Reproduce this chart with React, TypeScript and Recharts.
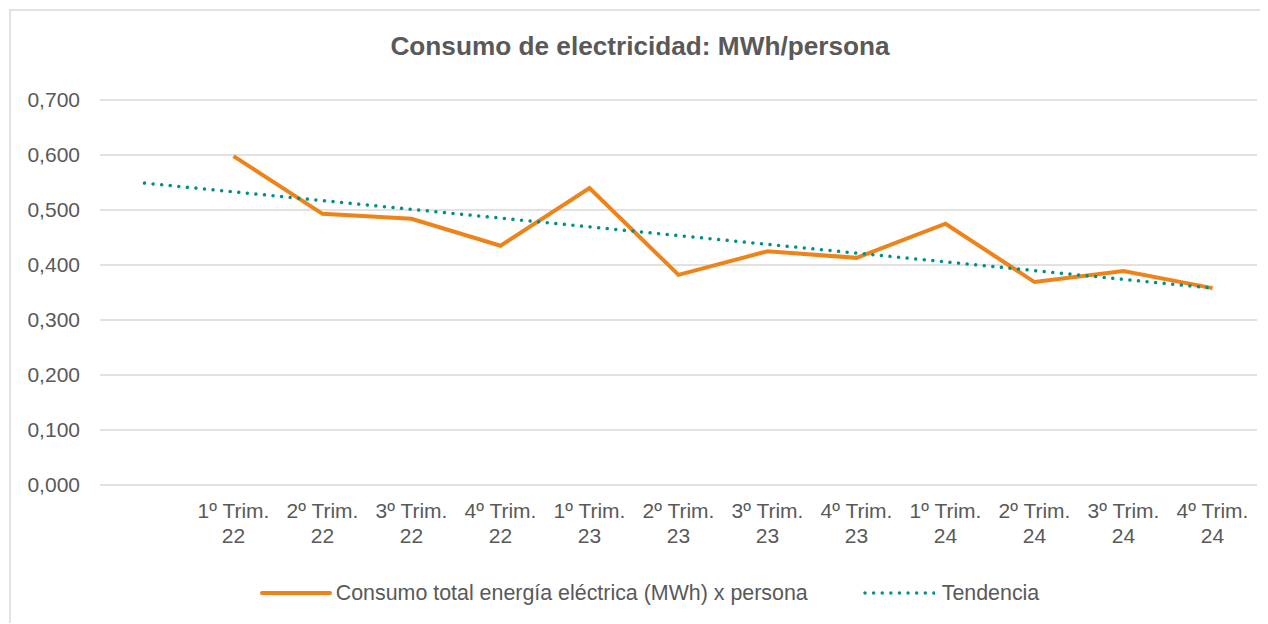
import React from "react";
import { LineChart, Line, XAxis, YAxis, CartesianGrid, Legend } from "recharts";

const categories = [
  "",
  "1º Trim. 22",
  "2º Trim. 22",
  "3º Trim. 22",
  "4º Trim. 22",
  "1º Trim. 23",
  "2º Trim. 23",
  "3º Trim. 23",
  "4º Trim. 23",
  "1º Trim. 24",
  "2º Trim. 24",
  "3º Trim. 24",
  "4º Trim. 24",
];
const consumo = [null, 0.598, 0.493, 0.484, 0.435, 0.54, 0.382, 0.425, 0.413, 0.475, 0.369, 0.389, 0.358];
const tendencia = [0.549, null, null, null, null, null, null, null, null, null, null, null, 0.358];
const yTicks = [0, 0.1, 0.2, 0.3, 0.4, 0.5, 0.6, 0.7];

const seriesNames = ["Consumo total energía eléctrica (MWh) x persona", "Tendencia"];
const title = "Consumo de electricidad: MWh/persona";

const data = categories.map((c, i) => ({ cat: c, consumo: consumo[i], tendencia: tendencia[i] }));

const ORANGE = "#EE8419";
const TEAL = "#00908A";
const TEXT = "#595959";
const FONT = "'Liberation Sans', Arial, sans-serif";

const XTick = (props: any) => {
  const { x, y, payload } = props;
  const v: string = payload.value || "";
  if (!v) return null;
  const idx = v.lastIndexOf(" ");
  const l1 = v.slice(0, idx);
  const l2 = v.slice(idx + 1);
  return (
    <text x={x} y={y} textAnchor="middle" fill={TEXT} fontSize={21} fontFamily={FONT}>
      <tspan x={x} y={y + 33}>{l1}</tspan>
      <tspan x={x} y={y + 58}>{l2}</tspan>
    </text>
  );
};

const LegendContent = () => (
  <div
    style={{
      display: "flex",
      justifyContent: "center",
      alignItems: "center",
      paddingLeft: 34,
      height: 40,
      fontFamily: FONT,
      fontSize: 21.4,
      color: TEXT,
    }}
  >
    <svg width={72} height={10} style={{ marginRight: 4 }}>
      <line x1={2} y1={5} x2={70} y2={5} stroke={ORANGE} strokeWidth={4} strokeLinecap="round" />
    </svg>
    <span style={{ marginRight: 55 }}>{seriesNames[0]}</span>
    <svg width={72} height={10} style={{ marginRight: 7 }}>
      <line x1={2} y1={5} x2={72} y2={5} stroke={TEAL} strokeWidth={3.5} strokeDasharray="0.01 8.6" strokeLinecap="round" />
    </svg>
    <span>{seriesNames[1]}</span>
  </div>
);

export default function App() {
  return (
    <div style={{ position: "relative", width: 1259, height: 615, overflow: "hidden" }}>
      <div
        style={{
          position: "absolute",
          left: 1,
          top: 1,
          width: 1300,
          height: 700,
          border: "2px solid #e2e2e2",
          boxSizing: "border-box",
        }}
      />
      <div
        style={{
          position: "absolute",
          left: 0,
          top: 25,
          width: 1264,
          textAlign: "center",
          fontFamily: FONT,
          fontWeight: "bold",
          fontSize: 26.2,
          lineHeight: "26px",
          color: TEXT,
          zIndex: 2,
        }}
      >
        {title}
      </div>
      <div style={{ position: "absolute", left: 0, top: 0 }}>
        <LineChart width={1260} height={616} data={data} margin={{ top: 92, right: 11, left: 0, bottom: 11 }}>
          <CartesianGrid vertical={false} stroke="#d9d9d9" strokeWidth={1.5} />
          <XAxis
            dataKey="cat"
            scale="band"
            axisLine={false}
            tickLine={false}
            tickSize={0}
            tickMargin={0}
            height={88}
            interval={0}
            tick={<XTick />}
          />
          <YAxis
            domain={[0, 0.7]}
            ticks={yTicks}
            width={92}
            axisLine={false}
            tickLine={false}
            tickSize={0}
            tickMargin={20}
            tick={{ fill: TEXT, fontSize: 21, fontFamily: FONT }}
            tickFormatter={(v: number) => v.toFixed(3).replace(".", ",")}
          />
          <Legend verticalAlign="bottom" height={40} content={<LegendContent />} />
          <Line
            type="linear"
            dataKey="consumo"
            name={seriesNames[0]}
            stroke={ORANGE}
            strokeWidth={4}
            dot={false}
            activeDot={false}
            isAnimationActive={false}
          />
          <Line
            type="linear"
            dataKey="tendencia"
            name={seriesNames[1]}
            stroke={TEAL}
            strokeWidth={3.5}
            strokeDasharray="0.01 8.6"
            strokeLinecap="round"
            connectNulls
            dot={false}
            activeDot={false}
            isAnimationActive={false}
          />
        </LineChart>
      </div>
    </div>
  );
}
